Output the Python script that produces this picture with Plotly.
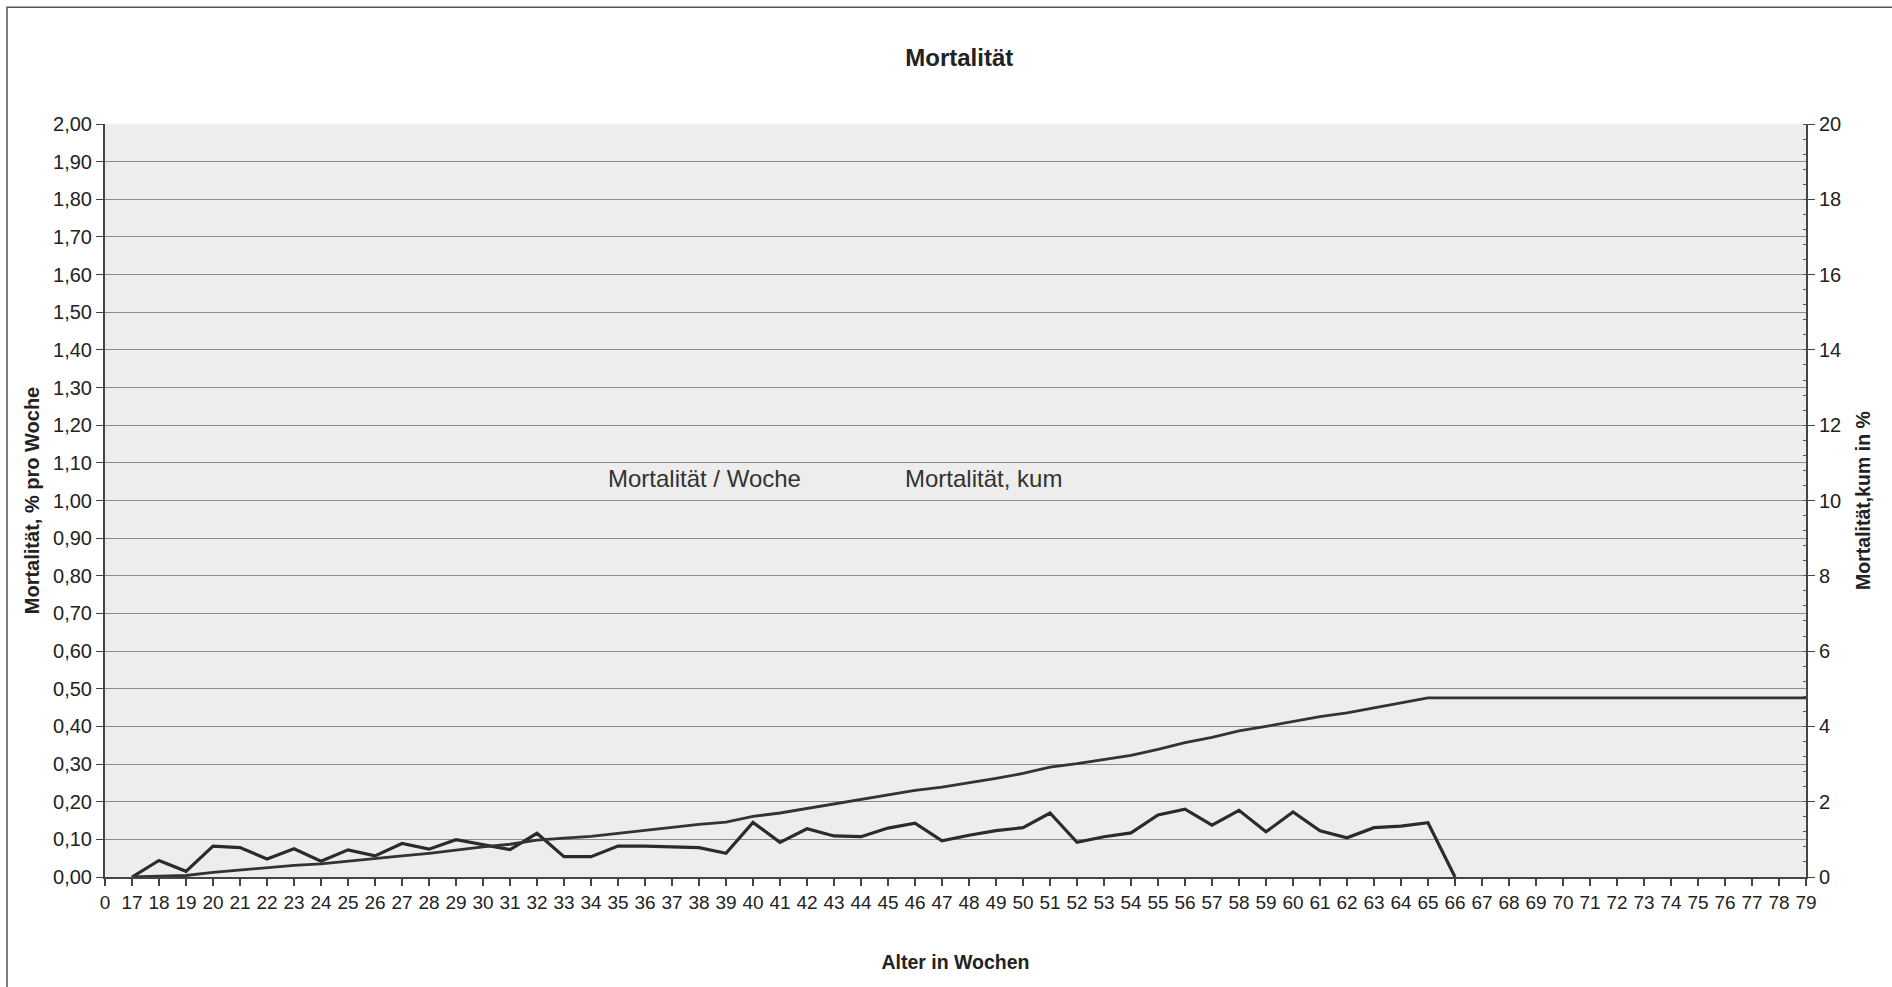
import plotly.graph_objects as go

# Age in weeks (category labels on the x axis)
weeks = ["0", "17", "18", "19", "20", "21", "22", "23", "24", "25", "26", "27", "28",
         "29", "30", "31", "32", "33", "34", "35", "36", "37", "38", "39", "40", "41",
         "42", "43", "44", "45", "46", "47", "48", "49", "50", "51", "52", "53", "54",
         "55", "56", "57", "58", "59", "60", "61", "62", "63", "64", "65", "66", "67",
         "68", "69", "70", "71", "72", "73", "74", "75", "76", "77", "78", "79"]

# Weekly mortality in % (weeks 17 .. 66)
mort_week = [0.000, 0.044, 0.015, 0.082, 0.078, 0.048, 0.075, 0.042, 0.072, 0.056,
             0.089, 0.074, 0.099, 0.085, 0.073, 0.116, 0.054, 0.054, 0.082, 0.082,
             0.079, 0.078, 0.063, 0.145, 0.092, 0.128, 0.109, 0.107, 0.130, 0.143,
             0.096, 0.111, 0.123, 0.131, 0.170, 0.092, 0.107, 0.117, 0.165, 0.180,
             0.138, 0.177, 0.120, 0.173, 0.123, 0.104, 0.131, 0.135, 0.144, 0.000]

# Cumulative mortality in % (weeks 17 .. 79)
mort_cum = [0.00, 0.02, 0.04, 0.12, 0.19, 0.24, 0.31, 0.35, 0.42, 0.47,
            0.56, 0.63, 0.72, 0.80, 0.87, 0.98, 1.03, 1.08, 1.16, 1.24,
            1.32, 1.40, 1.46, 1.61, 1.70, 1.82, 1.93, 2.04, 2.16, 2.30,
            2.39, 2.50, 2.62, 2.75, 2.92, 3.01, 3.12, 3.23, 3.39, 3.57,
            3.71, 3.88, 4.00, 4.13, 4.26, 4.36, 4.49, 4.62, 4.76, 4.76,
            4.76, 4.76, 4.76, 4.76, 4.76, 4.76, 4.76, 4.76, 4.76, 4.76,
            4.76, 4.76, 4.76]

week_x = weeks[1:1 + len(mort_week)]
cum_x = weeks[1:1 + len(mort_cum)]

FONT = "Liberation Sans, Arial, sans-serif"
INK = "#2b2b2b"

fig = go.Figure()
fig.add_trace(go.Scatter(x=week_x, y=mort_week, mode="lines", name="Mortalität / Woche",
                         line=dict(color=INK, width=3.2), yaxis="y"))
fig.add_trace(go.Scatter(x=cum_x, y=mort_cum, mode="lines", name="Mortalität, kum",
                         line=dict(color="#333333", width=2.8), yaxis="y2"))

fig.update_layout(
    width=1892, height=987,
    margin=dict(l=105, r=86, t=124, b=110),
    paper_bgcolor="white",
    plot_bgcolor="#ededed",
    separators=",.",
    showlegend=False,
    font=dict(family=FONT, size=20, color="#222"),
    title=dict(text="Mortalität", x=0.507, xref="container", y=1 - 58 / 987,
               yref="container", xanchor="center", yanchor="middle",
               font=dict(family=FONT, size=24, weight=700, color="#222")),
    xaxis=dict(
        type="category", categoryorder="array", categoryarray=weeks,
        tickmode="array", tickvals=weeks, ticktext=weeks,
        range=[0, len(weeks) - 1],
        showgrid=False, zeroline=False,
        showline=True, linecolor="#444", linewidth=2,
        ticks="outside", ticklen=7, tickcolor="#444", tickwidth=1.5,
        tickfont=dict(size=19),
        title=dict(text="Alter in Wochen", standoff=44,
                   font=dict(family=FONT, size=19.5, weight=700)),
    ),
    yaxis=dict(
        range=[0, 2], dtick=0.1, tickformat=".2f",
        showgrid=True, gridcolor="#8c8c8c", gridwidth=1,
        zeroline=False, showline=True, linecolor="#444", linewidth=2,
        ticks="outside", ticklen=7, tickcolor="#444",
        tickfont=dict(size=20),
        title=dict(text="Mortalität, % pro Woche", standoff=8,
                   font=dict(family=FONT, size=20, weight=700)),
    ),
    yaxis2=dict(
        range=[0, 20], dtick=2, overlaying="y", side="right",
        showgrid=False, zeroline=False,
        showline=True, linecolor="#444", linewidth=2,
        ticks="outside", ticklen=7, tickcolor="#444",
        minor=dict(ticks="inside", ticklen=3, dtick=0.4, tickcolor="#555"),
        tickfont=dict(size=20),
        title=dict(text="Mortalität,kum in %", standoff=16,
                   font=dict(family=FONT, size=19.5, weight=700)),
    ),
)

# Legend entries written inside the plot area
fig.add_annotation(text="Mortalität / Woche", xref="paper", yref="paper",
                   x=0.2945, y=0.529, xanchor="left", yanchor="middle",
                   showarrow=False, font=dict(family=FONT, size=24, color="#333"))
fig.add_annotation(text="Mortalität, kum", xref="paper", yref="paper",
                   x=0.4693, y=0.529, xanchor="left", yanchor="middle",
                   showarrow=False, font=dict(family=FONT, size=24, color="#333"))

# Outer chart frame
fig.add_shape(type="rect", xref="paper", yref="paper",
              x0=-0.0576, x1=1.12, y0=-0.18, y1=1.155,
              line=dict(color="#555", width=1.5), fillcolor="rgba(0,0,0,0)",
              layer="below")

fig.write_html("out.html")
